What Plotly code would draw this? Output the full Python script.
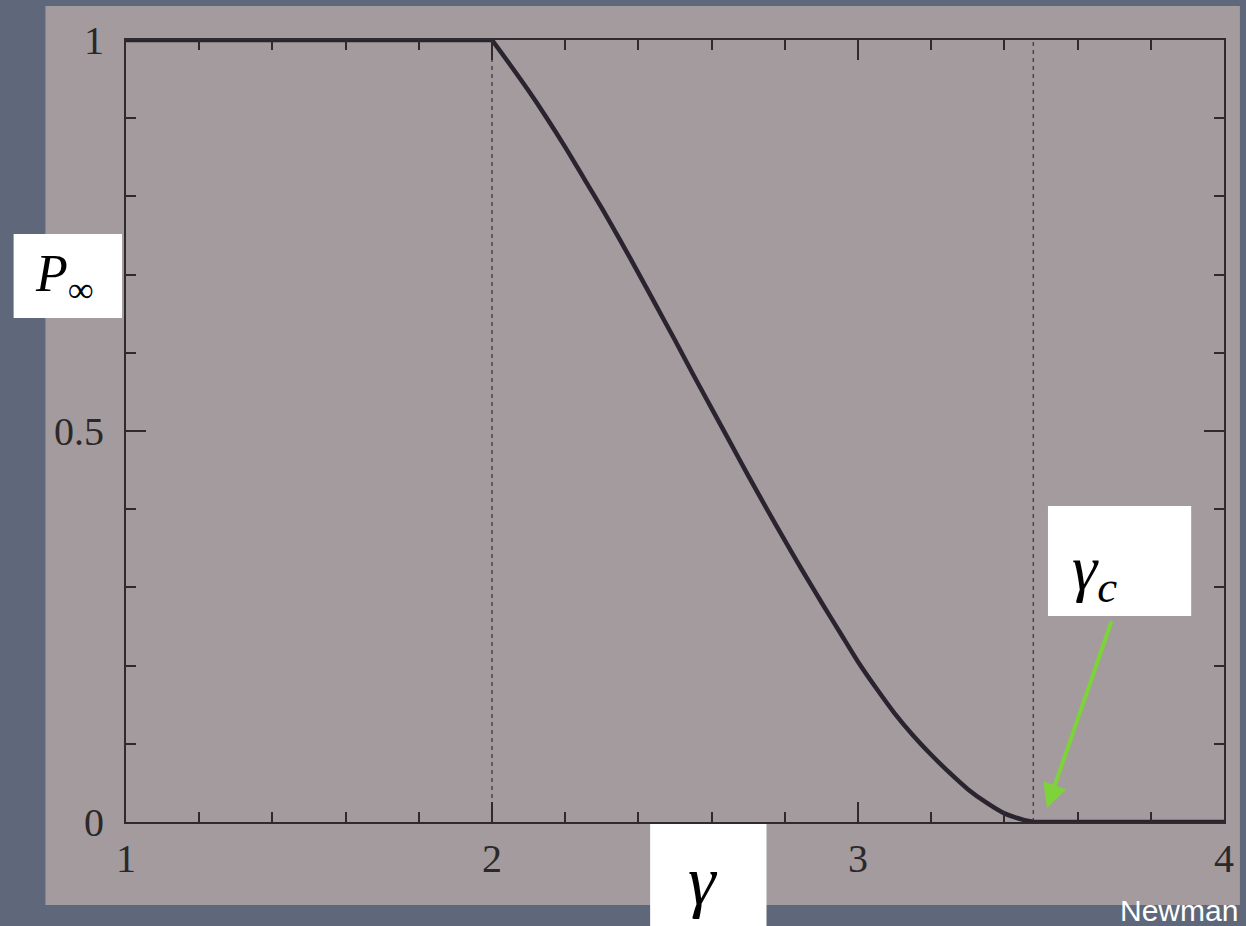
import plotly.graph_objects as go

# Data
gamma_plateau = [1.0, 2.0]
p_plateau = [1.0, 1.0]
gamma_curve = [2.0, 2.05, 2.1, 2.15, 2.2, 2.25, 2.3, 2.35, 2.4, 2.45, 2.5, 2.55, 2.6,
               2.65, 2.7, 2.75, 2.8, 2.85, 2.9, 2.95, 3.0, 3.05, 3.1, 3.15, 3.2, 3.25,
               3.3, 3.35, 3.4, 3.45, 3.479]
p_curve = [1.000, 0.968, 0.935, 0.900, 0.863, 0.824, 0.785, 0.744, 0.702, 0.659, 0.616,
           0.572, 0.529, 0.486, 0.443, 0.401, 0.360, 0.320, 0.281, 0.243, 0.205, 0.171,
           0.139, 0.111, 0.086, 0.063, 0.042, 0.025, 0.011, 0.003, 0.0]
gamma_tail = [3.479, 4.0]
p_tail = [0.0, 0.0]
gamma_c = 3.479
dashed_x = [2.0, gamma_c]
x_ticks = [1, 2, 3, 4]
x_tick_text = ["1", "2", "3", "4"]
y_ticks = [0, 0.5, 1]
y_tick_text = ["0", "0.5", "1"]

W, H = 1246, 926
L, R, T, B = 126, 1230, 40, 822

def px(x):
    return (x - L) / (R - L)

def py(y):
    return (B - y) / (B - T)

fig = go.Figure()

for xd in dashed_x:
    fig.add_trace(go.Scatter(x=[xd, xd], y=[0, 1], mode="lines",
                             line=dict(color="#4a4648", width=1.5, dash="4px,4px"),
                             hoverinfo="skip", showlegend=False))

line_style = dict(color="#2a2430", width=4.5)
fig.add_trace(go.Scatter(x=gamma_plateau, y=p_plateau, mode="lines", line=line_style,
                         showlegend=False))
fig.add_trace(go.Scatter(x=gamma_curve, y=p_curve, mode="lines",
                         line=dict(line_style, shape="spline", smoothing=0.8),
                         showlegend=False))
fig.add_trace(go.Scatter(x=gamma_tail, y=p_tail, mode="lines", line=line_style,
                         showlegend=False))

serif = "Liberation Serif, Times New Roman, serif"
axis_common = dict(showgrid=False, zeroline=False, showline=True, linecolor="#2e2a2e",
                   linewidth=2, mirror="ticks", ticks="inside", tickcolor="#2e2a2e",
                   tickwidth=2, tickfont=dict(family=serif, size=40, color="#2b2829"))

fig.update_xaxes(range=[1, 4], tickvals=x_ticks, ticktext=x_tick_text, ticklen=20,
                 ticklabelstandoff=0,
                 minor=dict(ticks="inside", dtick=0.2, tick0=1, ticklen=10,
                            tickcolor="#2e2a2e", tickwidth=2),
                 **axis_common)
fig.update_yaxes(range=[0, 1], tickvals=y_ticks, ticktext=y_tick_text, ticklen=20,
                 ticklabelstandoff=12,
                 minor=dict(ticks="inside", dtick=0.1, tick0=0, ticklen=10,
                            tickcolor="#2e2a2e", tickwidth=2),
                 **axis_common)

shapes = [
    # photographed page
    dict(type="rect", xref="paper", yref="paper", x0=px(45), x1=px(1246), y0=py(905), y1=py(6),
         fillcolor="#a39b9e", line=dict(width=0), layer="below"),
    # white label boxes
    dict(type="rect", xref="paper", yref="paper", x0=px(13), x1=px(122), y0=py(318), y1=py(234),
         fillcolor="white", line=dict(width=0)),
    dict(type="rect", xref="paper", yref="paper", x0=px(653), x1=px(770), y0=py(926), y1=py(824),
         fillcolor="white", line=dict(width=0)),
    dict(type="rect", xref="paper", yref="paper", x0=px(1053), x1=px(1197), y0=py(616), y1=py(506),
         fillcolor="white", line=dict(width=0)),
]

annotations = [
    dict(xref="paper", yref="paper", x=px(64), y=py(277), xanchor="center", yanchor="middle",
         text="<i>P</i><sub>∞</sub>",
         showarrow=False, font=dict(family=serif, size=52, color="black")),
    dict(xref="paper", yref="paper", x=px(706), y=py(880), xanchor="center", yanchor="middle",
         text="<i>γ</i>",
         showarrow=False, font=dict(family=serif, size=70, color="black")),
    dict(xref="paper", yref="paper", x=px(1100), y=py(572), xanchor="center", yanchor="middle",
         text="<i>γ<sub>c</sub></i>",
         showarrow=False, font=dict(family=serif, size=64, color="black")),
    dict(xref="paper", yref="paper", x=px(1052), y=py(808), ax=65, ay=-188,
         axref="pixel", ayref="pixel", text="", showarrow=True, arrowhead=2,
         arrowsize=1.2, arrowwidth=4, arrowcolor="#7ed33a"),
    dict(xref="paper", yref="paper", x=px(1246), y=py(910), xanchor="right", yanchor="middle",
         text="Newman",
         showarrow=False, font=dict(family="Liberation Sans, Arial, sans-serif", size=30,
                                    color="white")),
]

fig.update_layout(
    width=W, height=H,
    margin=dict(l=L, r=W - R, t=T, b=H - B),
    paper_bgcolor="#5f687a",
    plot_bgcolor="rgba(0,0,0,0)",
    shapes=shapes,
    annotations=annotations,
    showlegend=False,
)

fig.write_html("out.html")
